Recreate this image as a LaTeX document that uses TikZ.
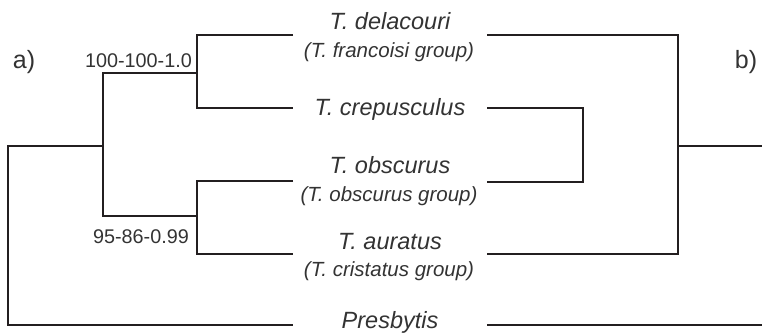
\documentclass[tikz,border=0pt]{standalone}
\usepackage{fontspec}
\setmainfont{Liberation Sans}
\definecolor{lcol}{HTML}{231F20}
\definecolor{tcol}{HTML}{333333}
\begin{document}
\begin{tikzpicture}[x=1pt,y=-1pt,
  taxon/.style={font=\fontsize{23.5}{28}\selectfont\itshape, text=tcol, anchor=base, inner sep=0pt},
  grp/.style={font=\fontsize{20.5}{24}\selectfont\itshape, text=tcol, anchor=base, inner sep=0pt},
  supp/.style={font=\fontsize{19.8}{22}\selectfont, text=tcol, anchor=base east, inner sep=0pt},
  panel/.style={font=\fontsize{25}{28}\selectfont, text=tcol, anchor=base, inner sep=0pt},
  branch/.style={line width=1.6pt, draw=lcol, line join=miter}]
\useasboundingbox (0,0) rectangle (762,333);

% labels
\node[panel] (pa) at (24,68) {a)};
\node[panel] (pb) at (746,68) {b)};

% taxa
\node[taxon] (del) at (390,29) {T. delacouri};
\node[grp] (delg) at (389,57) {(T. francoisi group)};
\node[taxon] (cre) at (390,115) {T. crepusculus};
\node[taxon] (obs) at (390,173) {T. obscurus};
\node[grp] (obsg) at (389,201) {(T. obscurus group)};
\node[taxon] (aur) at (390,249) {T. auratus};
\node[grp] (aurg) at (389,276) {(T. cristatus group)};
\node[taxon] (pres) at (390,328) {Presbytis};

% support values
\node[supp] (s1) at (192,67) {100-100-1.0};
\node[supp] (s2) at (189,243) {95-86-0.99};

% left tree coordinates
\coordinate (Ldel) at (293,35);
\coordinate (Lcre) at (293,108);
\coordinate (Lobs) at (293,181);
\coordinate (Laur) at (293,254);
\coordinate (Lpres) at (293,325);
\coordinate (Lup) at (197,73);
\coordinate (Llow) at (197,216);
\coordinate (Lmid) at (103,146);
\coordinate (Lroot) at (8,146);

\draw[branch] (Ldel) -| (Lup) |- (Lcre);
\draw[branch] (Lobs) -| (Llow) |- (Laur);
\draw[branch] (Lup) -| (Lmid) |- (Llow);
\draw[branch] (Lmid) -- (Lroot) |- (Lpres);

% right tree coordinates
\coordinate (Rdel) at (487,35);
\coordinate (Rcre) at (487,108);
\coordinate (Robs) at (487,182);
\coordinate (Raur) at (487,254);
\coordinate (Rpres) at (487,325);
\coordinate (Rcc) at (583,145);
\coordinate (Rtop) at (678,146);
\coordinate (Rend) at (762,146);
\coordinate (Rpend) at (762,325);

\draw[branch] (Rcre) -| (Rcc) |- (Robs);
\draw[branch] (Rdel) -| (Rtop) |- (Raur);
\draw[branch] (Rtop) -- (Rend);
\draw[branch] (Rpres) -- (Rpend);
\end{tikzpicture}
\end{document}
